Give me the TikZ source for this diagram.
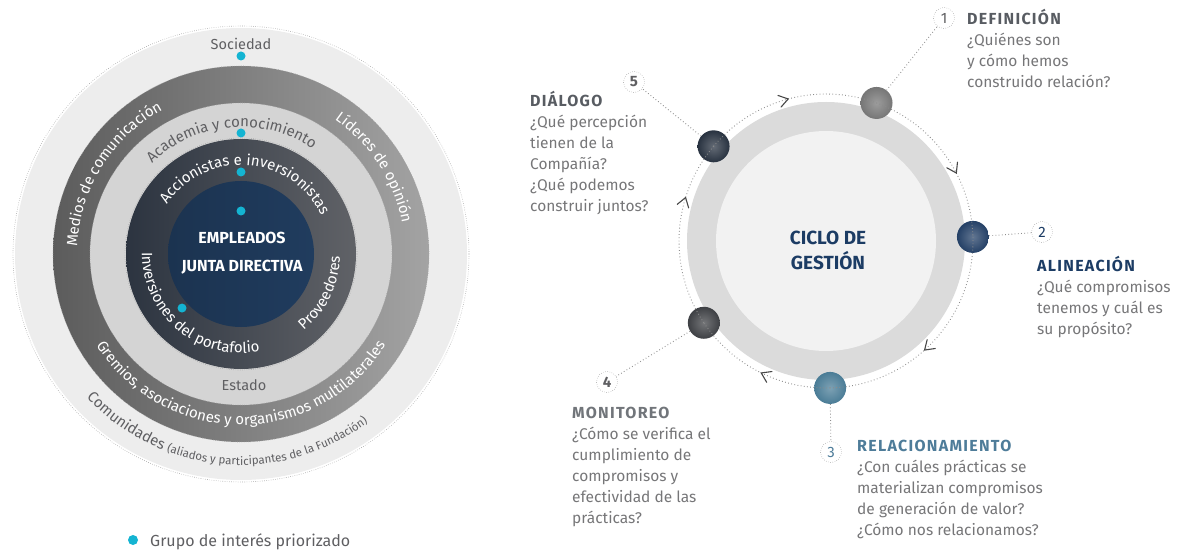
\documentclass[tikz,border=0pt]{standalone}
\usepackage{fontspec}
\setmainfont{Fira Sans}
\usepackage{tikz}
\usetikzlibrary{positioning, decorations.text, decorations.markings}
\definecolor{priorityColor}{RGB}{20,180,210}
\definecolor{navyColor}{RGB}{28,60,100}
\definecolor{tealColor}{RGB}{78,124,153}
\definecolor{titleGray}{RGB}{88,92,98}
\definecolor{bodyGray}{RGB}{118,118,120}
\definecolor{labelGray}{RGB}{95,95,98}
\definecolor{slateDark}{RGB}{44,52,64}
\definecolor{slateLight}{RGB}{96,98,103}
\definecolor{coreNavy}{RGB}{32,60,94}
\definecolor{ballOne}{RGB}{118,118,118}
\definecolor{ballTwo}{RGB}{36,64,102}
\definecolor{ballThree}{RGB}{74,124,150}
\definecolor{ballFour}{RGB}{62,64,68}
\definecolor{ballFive}{RGB}{40,50,64}
\tikzstyle{ringDots} = [color=gray!70, line width=.6pt, dash pattern=on .6pt off 1.6pt]
\tikzstyle{flatText} = [inner sep=0pt, font=\fontsize{14.5}{14.5}\selectfont]
\tikzstyle{centerText} = [align=center, text=white, font=\fontsize{16}{28}\selectfont\bfseries]
\tikzstyle{ballStyle} = [circle, minimum size=32pt, inner sep=0pt]
\tikzstyle{orbitLine} = [color=gray!90, line width=.9pt, dash pattern=on .8pt off 2.4pt]
\tikzstyle{chevron} = [solid, line width=1.1pt, color=black!72, line cap=round]
\tikzstyle{numberStyle} = [circle, draw=gray!85, dash pattern=on .6pt off 1.6pt, minimum size=21pt, inner sep=0pt, font=\fontsize{15}{15}\selectfont]
\tikzstyle{stepBlock} = [anchor=north west, inner sep=0pt, align=left, text=bodyGray, font=\fontsize{15.5}{21}\selectfont]
\tikzstyle{cycleTitle} = [align=center, text=navyColor, font=\fontsize{19}{25}\selectfont\bfseries]
\newcommand{\orbitR}{147}
\newcommand{\ringFont}{\fontsize{15}{15}\selectfont}
\newcommand{\smallRingFont}{\fontsize{11.5}{11.5}\selectfont}
\newcommand{\stepHead}[2]{\rule{0pt}{16pt}{\color{#1}\fontsize{16}{21}\selectfont\bfseries\addfontfeature{LetterSpace=8}#2}}
\newcommand{\ringDisc}[3]{\shade[left color=#2, right color=#3] (L) circle (#1);}
\newcommand{\dottedRing}[1]{\draw[ringDots] (L) circle (#1);}
\newcommand{\arcText}[5]{\path[decorate, decoration={text along path, text align=center, text={#4#5}}] ([shift={(#2:#1)}]L) arc[start angle=#2, end angle=#3, radius=#1];}
\newcommand{\priorityDot}[2]{\fill[priorityColor] ([shift={(#1:#2)}]L) circle (4.5);}
\newcommand{\cycleBall}[3]{\node[ballStyle, inner color=#3!72!white, outer color=#3] (#1) at ([shift={(#2:\orbitR)}]C) {};}
\newcommand{\cycleArc}[4]{\draw[orbitLine, postaction={decorate, decoration={markings, mark=at position #4 with {\draw[chevron] (-9pt,6pt) -- (0pt,0pt) -- (-9pt,-6pt);}}}] (#1.center) arc[start angle=#2, end angle=#3, radius=\orbitR];}

\begin{document}
\begin{tikzpicture}[x=1pt, y=1pt]
  \useasboundingbox (0,0) rectangle (1185,552);
  \coordinate (L) at (241,298);
  \coordinate (C) at (826,311);

  % stakeholder rings
  \fill[black!7] (L) circle (226);
  \ringDisc{188}{black!64}{black!36}
  \fill[black!17] (L) circle (151);
  \ringDisc{115}{slateDark}{slateLight}
  \shade[left color=coreNavy!85!black, right color=coreNavy] (L) circle (73);
  \dottedRing{228}
  \dottedRing{188}
  \dottedRing{151}
  \dottedRing{116}

  \node[flatText, text=labelGray] (sociedad) at (241,508) {Sociedad};
  \node[flatText, text=labelGray] (estado) at (244,167) {Estado};
  \node[centerText] (empleados) at (242,299) {EMPLEADOS\\JUNTA DIRECTIVA};
  \arcText{164}{190}{106}{|\ringFont\color{white}|}{Medios de comunicación}
  \arcText{164}{75}{-9}{|\ringFont\color{white}|}{Líderes de opinión}
  \arcText{127}{140}{50}{|\ringFont\color{labelGray}|}{Academia y conocimiento}
  \arcText{89}{150}{22}{|\ringFont\color{white}|}{Accionistas e inversionistas}
  \arcText{99}{175}{285}{|\ringFont\color{white}|}{Inversiones del portafolio}
  \arcText{99}{-60}{8}{|\ringFont\color{white}|}{Proveedores}
  \arcText{171}{205}{335}{|\ringFont\color{white}|}{Gremios, asociaciones y organismos multilaterales}
  \arcText{211}{200}{330}{|\ringFont\color{labelGray}|}{Comunidades |\smallRingFont\color{labelGray}|(aliados y participantes de la Fundación)}

  \priorityDot{90}{198}
  \priorityDot{90}{121}
  \priorityDot{90}{82}
  \priorityDot{90}{43}
  \priorityDot{222.5}{80}

  % legend
  \fill[priorityColor] (133,12) circle (5);
  \node[anchor=base west, inner sep=0pt, text=labelGray, font=\fontsize{16}{16}\selectfont] (legend) at (150,6) {Grupo de interés priorizado};

  % management cycle
  \fill[black!14] (C) circle (139);
  \fill[black!5] (C) circle (110);
  \node[cycleTitle] (ciclo) at (828,302) {CICLO DE\\GESTIÓN};

  \cycleBall{b1}{69.9}{ballOne}
  \cycleBall{b2}{1.6}{ballTwo}
  \cycleBall{b3}{-88.4}{ballThree}
  \cycleBall{b4}{213.8}{ballFour}
  \cycleBall{b5}{139.9}{ballFive}

  \cycleArc{b5}{139.9}{69.9}{0.5}
  \cycleArc{b1}{69.9}{1.6}{0.62}
  \cycleArc{b2}{1.6}{-88.4}{0.55}
  \cycleArc{b3}{-88.4}{-146.2}{0.48}
  \cycleArc{b4}{213.8}{139.9}{0.69}

  \node[numberStyle, text=labelGray] (n1) at (944,534) {1};
  \node[numberStyle, text=navyColor] (n2) at (1042,320) {2};
  \node[numberStyle, text=tealColor] (n3) at (831,100) {3};
  \node[numberStyle, text=labelGray, font=\fontsize{15}{15}\selectfont\bfseries] (n4) at (607,170) {4};
  \node[numberStyle, text=labelGray, font=\fontsize{15}{15}\selectfont\bfseries] (n5) at (634,470) {5};

  \draw[orbitLine] (b1) -- (n1);
  \draw[orbitLine] (b2) -- (n2);
  \draw[orbitLine] (b3) -- (n3);
  \draw[orbitLine] (b4) -- (n4);
  \draw[orbitLine] (b5) -- (n5);

  \node[stepBlock] (step1) at (967,543.5) {\stepHead{titleGray}{DEFINICIÓN}\\¿Quiénes son\\y cómo hemos\\construido relación?};
  \node[stepBlock] (step2) at (1037,296.5) {\stepHead{navyColor}{ALINEACIÓN}\\¿Qué compromisos\\tenemos y cuál es\\su propósito?};
  \node[stepBlock] (step3) at (857,116.5) {\stepHead{tealColor}{RELACIONAMIENTO}\\¿Con cuáles prácticas se\\materializan compromisos\\de generación de valor?\\¿Cómo nos relacionamos?};
  \node[stepBlock] (step4) at (572,149.5) {\stepHead{titleGray!85}{MONITOREO}\\¿Cómo se verifica el\\cumplimiento de\\compromisos y\\efectividad de las\\prácticas?};
  \node[stepBlock] (step5) at (530,461.5) {\stepHead{titleGray}{DIÁLOGO}\\¿Qué percepción\\tienen de la\\Compañía?\\¿Qué podemos\\construir juntos?};
\end{tikzpicture}
\end{document}
